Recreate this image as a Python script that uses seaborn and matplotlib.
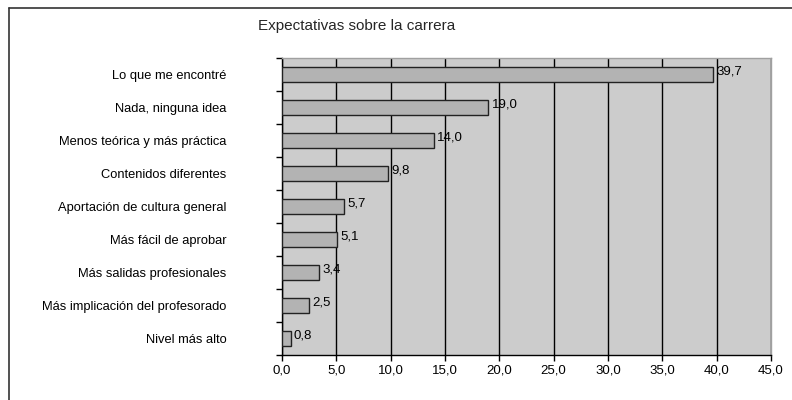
import matplotlib
matplotlib.use('Agg')
import matplotlib.pyplot as plt
from matplotlib.ticker import FuncFormatter, FixedLocator, MultipleLocator
import seaborn as sns
import pandas as pd

categories = ['Lo que me encontré', 'Nada, ninguna idea', 'Menos teórica y más práctica',
              'Contenidos diferentes', 'Aportación de cultura general', 'Más fácil de aprobar',
              'Más salidas profesionales', 'Más implicación del profesorado', 'Nivel más alto']
values = [39.7, 19.0, 14.0, 9.8, 5.7, 5.1, 3.4, 2.5, 0.8]
title = 'Expectativas sobre la carrera'

df = pd.DataFrame({'cat': categories, 'val': values})

sns.set_style('white')
plt.rcParams['font.family'] = ['Liberation Sans', 'DejaVu Sans']

fig = plt.figure(figsize=(7.92, 4), dpi=100)
ax = fig.add_axes([0.356, 0.1125, 0.6175, 0.7425])
ax.set_facecolor('#cccccc')

sns.barplot(data=df, x='val', y='cat', order=categories, orient='h', color='#b3b3b3',
            edgecolor='#222222', linewidth=1, width=0.44, saturation=1, ax=ax, zorder=3)

ax.set_xlim(0, 45)
ax.set_ylim(len(categories) - 0.5, -0.5)
ax.xaxis.set_major_locator(MultipleLocator(5))
ax.xaxis.set_major_formatter(FuncFormatter(lambda v, p: f'{v:.1f}'.replace('.', ',')))
ax.grid(axis='x', color='black', linewidth=1, zorder=1)
ax.set_axisbelow(True)
ax.set_xlabel('')
ax.set_ylabel('')

ax.yaxis.set_minor_locator(FixedLocator([i - 0.5 for i in range(len(categories) + 1)]))
ax.tick_params(axis='y', which='major', left=False, length=0, pad=40, labelsize=9.3, labelcolor='black')
ax.tick_params(axis='y', which='minor', left=True, length=4, direction='out', color='black', width=1)
ax.tick_params(axis='x', which='major', bottom=True, length=4, direction='out', color='black',
               width=1, labelsize=9.5, labelcolor='black', pad=3)
for lbl in ax.get_yticklabels():
    lbl.set_horizontalalignment('right')

for s in ['left', 'bottom']:
    ax.spines[s].set_color('black')
    ax.spines[s].set_linewidth(1)
for s in ['top', 'right']:
    ax.spines[s].set_color('#a0a0a0')
    ax.spines[s].set_linewidth(1)

for i, v in enumerate(values):
    ax.text(v + 0.3, i - 0.08, f'{v:.1f}'.replace('.', ','), va='center', ha='left',
            fontsize=9.5, color='black', zorder=4)

fig.text(0.45, 0.935, title, ha='center', va='center', fontsize=11)

# marco exterior
fig.add_artist(plt.Line2D([0.011, 0.011], [0, 0.98], transform=fig.transFigure, color='#333333', lw=1.2))
fig.add_artist(plt.Line2D([0.011, 1], [0.98, 0.98], transform=fig.transFigure, color='#333333', lw=1.2))

fig.savefig('out.png', dpi=100)
